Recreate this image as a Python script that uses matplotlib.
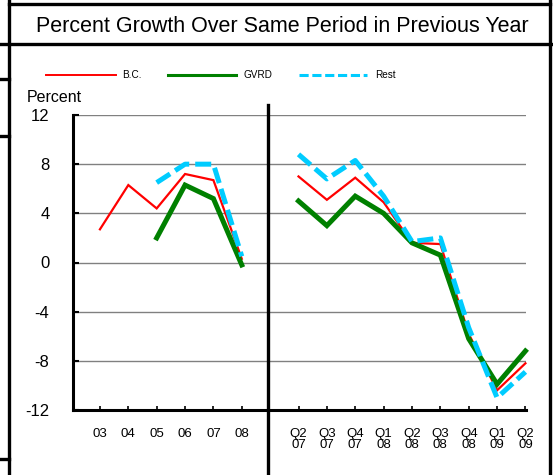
import matplotlib
matplotlib.use("Agg")
import matplotlib.pyplot as plt
from matplotlib.lines import Line2D

plt.rcParams['font.family'] = ['Liberation Sans', 'DejaVu Sans']

# ---- data ----
annual_labels = ['03', '04', '05', '06', '07', '08']
quarter_labels = ['Q2\n07', 'Q3\n07', 'Q4\n07', 'Q1\n08', 'Q2\n08',
                  'Q3\n08', 'Q4\n08', 'Q1\n09', 'Q2\n09']

bc_annual = [2.7, 6.3, 4.4, 7.2, 6.7, 0.3]
gvrd_annual = [None, None, 2.0, 6.3, 5.2, -0.2]
rest_annual = [None, None, 6.5, 8.0, 8.0, 0.5]

bc_quarter = [7.0, 5.1, 6.9, 4.9, 1.6, 1.5, -5.8, -10.4, -8.2]
gvrd_quarter = [5.0, 3.0, 5.4, 4.0, 1.6, 0.6, -6.2, -9.9, -7.2]
rest_quarter = [8.8, 6.8, 8.3, 5.4, 1.7, 2.0, -5.3, -11.0, -8.9]

yticks = [12, 8, 4, 0, -4, -8, -12]

# ---- figure ----
W, H = 553, 475
fig = plt.figure(figsize=(W / 100, H / 100), dpi=100)

def fx(px):
    return px / W

def fy(py):
    return 1 - py / H

ax = fig.add_axes([fx(73), fy(410), fx(526) - fx(73), fy(115) - fy(410)])

n_a = len(annual_labels)
xa = list(range(n_a))
xq = [n_a + 1 + i for i in range(len(quarter_labels))]

RED = '#FF0000'
GREEN = '#008000'
CYAN = '#00CCFF'

def seg(xs, ys):
    px = [x for x, y in zip(xs, ys) if y is not None]
    py = [y for y in ys if y is not None]
    return px, py

for ys_a, ys_q, col, lw, ls in [
    (bc_annual, bc_quarter, RED, 1.6, '-'),
    (gvrd_annual, gvrd_quarter, GREEN, 3.6, '-'),
    (rest_annual, rest_quarter, CYAN, 3.6, (0, (3.2, 1.2))),
]:
    px, py = seg(xa, ys_a)
    ax.plot(px, py, color=col, lw=lw, linestyle=ls, solid_joinstyle='miter',
            zorder=3, clip_on=False)
    ax.plot(xq, ys_q, color=col, lw=lw, linestyle=ls, solid_joinstyle='miter',
            zorder=3, clip_on=False)

ax.set_xlim(-0.95, xq[-1] + 0.02)
ax.set_ylim(-12, 12)
ax.set_yticks(yticks)
ax.set_yticklabels([str(t) for t in yticks])
for t in yticks[:-1]:
    ax.axhline(t, color='#808080', lw=1.0, zorder=1)

ax.set_xticks(xa + xq)
ax.set_xticklabels(annual_labels + quarter_labels, fontsize=9.5)
for lab in ax.get_xticklabels():
    lab.set_linespacing(0.9)
    lab.set_verticalalignment('top')

for s in ['top', 'right']:
    ax.spines[s].set_visible(False)
for s in ['left', 'bottom']:
    ax.spines[s].set_linewidth(2.2)
    ax.spines[s].set_color('black')

ax.tick_params(axis='y', direction='in', length=4, width=1.5, pad=17,
               labelsize=12)
ax.tick_params(axis='x', direction='in', length=3, width=1.2, pad=13)

# "Percent" axis caption
fig.text(fx(27), fy(97), 'Percent', fontsize=11.5, ha='left', va='center')

# title
fig.text(fx(282), fy(26), 'Percent Growth Over Same Period in Previous Year',
         fontsize=15.5, ha='center', va='center')

# legend
leg_items = [('B.C.', RED, 1.4, '-', 46, 116, 122),
             ('GVRD', GREEN, 2.2, '-', 168, 236, 243),
             ('Rest', CYAN, 2.2, (0, (3, 1.2)), 299, 367, 375)]
for name, col, lw, ls, x0, x1, xt in leg_items:
    fig.add_artist(Line2D([fx(x0), fx(x1)], [fy(75), fy(75)], color=col,
                          lw=lw, linestyle=ls, transform=fig.transFigure))
    fig.text(fx(xt), fy(75), name, fontsize=7.2, ha='left', va='center')

# divider between annual and quarterly panels
fig.add_artist(Line2D([fx(268), fx(268)], [fy(105), fy(475)], color='black',
                      lw=2.4, transform=fig.transFigure))

# page frame lines
frame_lw = 2.4
frame = [
    ([9, 9], [0, 475]),          # left border
    ([9, 550], [4, 4]),          # top border
    ([0, 553], [44, 44]),        # under title
    ([550, 550], [0, 475]),      # right border
    ([0, 9], [79, 79]),
    ([0, 9], [136, 136]),
    ([0, 9], [459, 459]),
]
for xs, ys in frame:
    fig.add_artist(Line2D([fx(v) for v in xs], [fy(v) for v in ys],
                          color='black', lw=frame_lw,
                          transform=fig.transFigure))

fig.savefig('out.png', dpi=100)
